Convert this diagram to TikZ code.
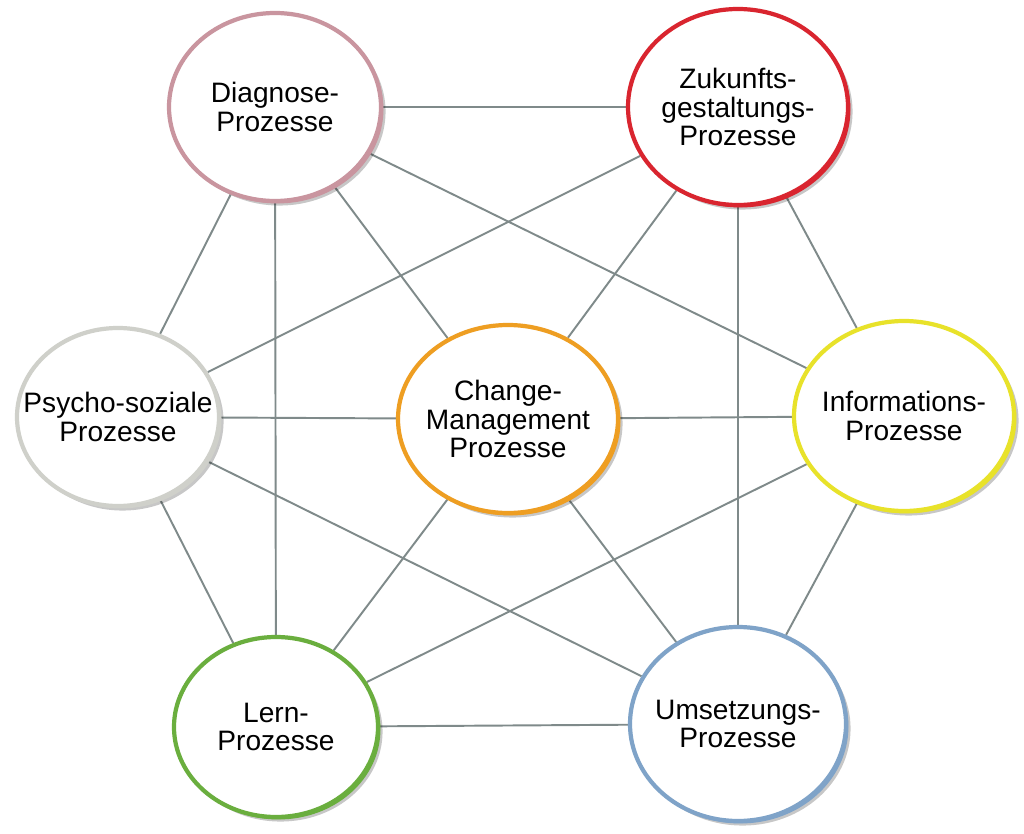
\documentclass[tikz,border=0pt]{standalone}
\usepackage{fontspec}
\setmainfont{Liberation Sans}
\usetikzlibrary{shapes.geometric,shadows,backgrounds}
\definecolor{cDiag}{HTML}{C9959F}
\definecolor{cZuk}{HTML}{D9252F}
\definecolor{cPsy}{HTML}{CFD0CA}
\definecolor{cChg}{HTML}{EE9E22}
\definecolor{cInf}{HTML}{E8E22A}
\definecolor{cLern}{HTML}{6AAE3E}
\definecolor{cUms}{HTML}{7FA3C8}
\definecolor{cLine}{HTML}{7F8A8A}
\tikzset{
  proc/.style={ellipse, inner sep=0pt, fill=white, draw=#1, line width=2.4pt,
    drop shadow={shadow xshift=2.6pt, shadow yshift=-2.6pt, fill=black, opacity=0.22},
    general shadow={shadow xshift=1.4pt, shadow yshift=-1.4pt, fill=#1}},
  ptext/.style={align=center, text=black, font=\fontsize{16}{16}\selectfont, inner sep=0pt},
  link/.style={draw=cLine, line width=1.1pt}
}
\begin{document}
\begin{tikzpicture}[x=0.02cm,y=-0.02cm]
\useasboundingbox (0,0) rectangle (1024,834);
\node[proc=cDiag, minimum width=212*0.02cm, minimum height=188*0.02cm] (D) at (275,107) {};
\node[ptext] (Dt) at (D.center) {Diagnose-\\Prozesse};
\node[proc=cZuk, minimum width=220*0.02cm, minimum height=196*0.02cm] (Z) at (738,107) {};
\node[ptext] (Zt) at (Z.center) {Zukunfts-\\gestaltungs-\\Prozesse};
\node[proc=cPsy, minimum width=202*0.02cm, minimum height=178*0.02cm] (P) at (118,417) {};
\node[ptext] (Pt) at (P.center) {Psycho-soziale\\Prozesse};
\node[proc=cChg, minimum width=220*0.02cm, minimum height=188*0.02cm] (C) at (508,419) {};
\node[ptext] (Ct) at (C.center) {Change-\\Management\\Prozesse};
\node[proc=cInf, minimum width=220*0.02cm, minimum height=190*0.02cm] (I) at (904,416) {};
\node[ptext] (It) at (I.center) {Informations-\\Prozesse};
\node[proc=cLern, minimum width=204*0.02cm, minimum height=180*0.02cm] (L) at (276,727) {};
\node[ptext] (Lt) at (L.center) {Lern-\\Prozesse};
\node[proc=cUms, minimum width=216*0.02cm, minimum height=194*0.02cm] (U) at (738,724) {};
\node[ptext] (Ut) at (U.center) {Umsetzungs-\\Prozesse};
\begin{pgfonlayer}{background}
\fill[white] (0,0) rectangle (1024,834);
\draw[link] (D) -- (Z);
\draw[link] (D) -- (P);
\draw[link] (D) -- (L);
\draw[link] (D) -- (C);
\draw[link] (D) -- (I);
\draw[link] (Z) -- (P);
\draw[link] (Z) -- (C);
\draw[link] (Z) -- (U);
\draw[link] (Z) -- (I);
\draw[link] (P) -- (C);
\draw[link] (P) -- (U);
\draw[link] (P) -- (L);
\draw[link] (I) -- (C);
\draw[link] (I) -- (L);
\draw[link] (I) -- (U);
\draw[link] (L) -- (C);
\draw[link] (L) -- (U);
\draw[link] (U) -- (C);
\end{pgfonlayer}
\end{tikzpicture}
\end{document}
